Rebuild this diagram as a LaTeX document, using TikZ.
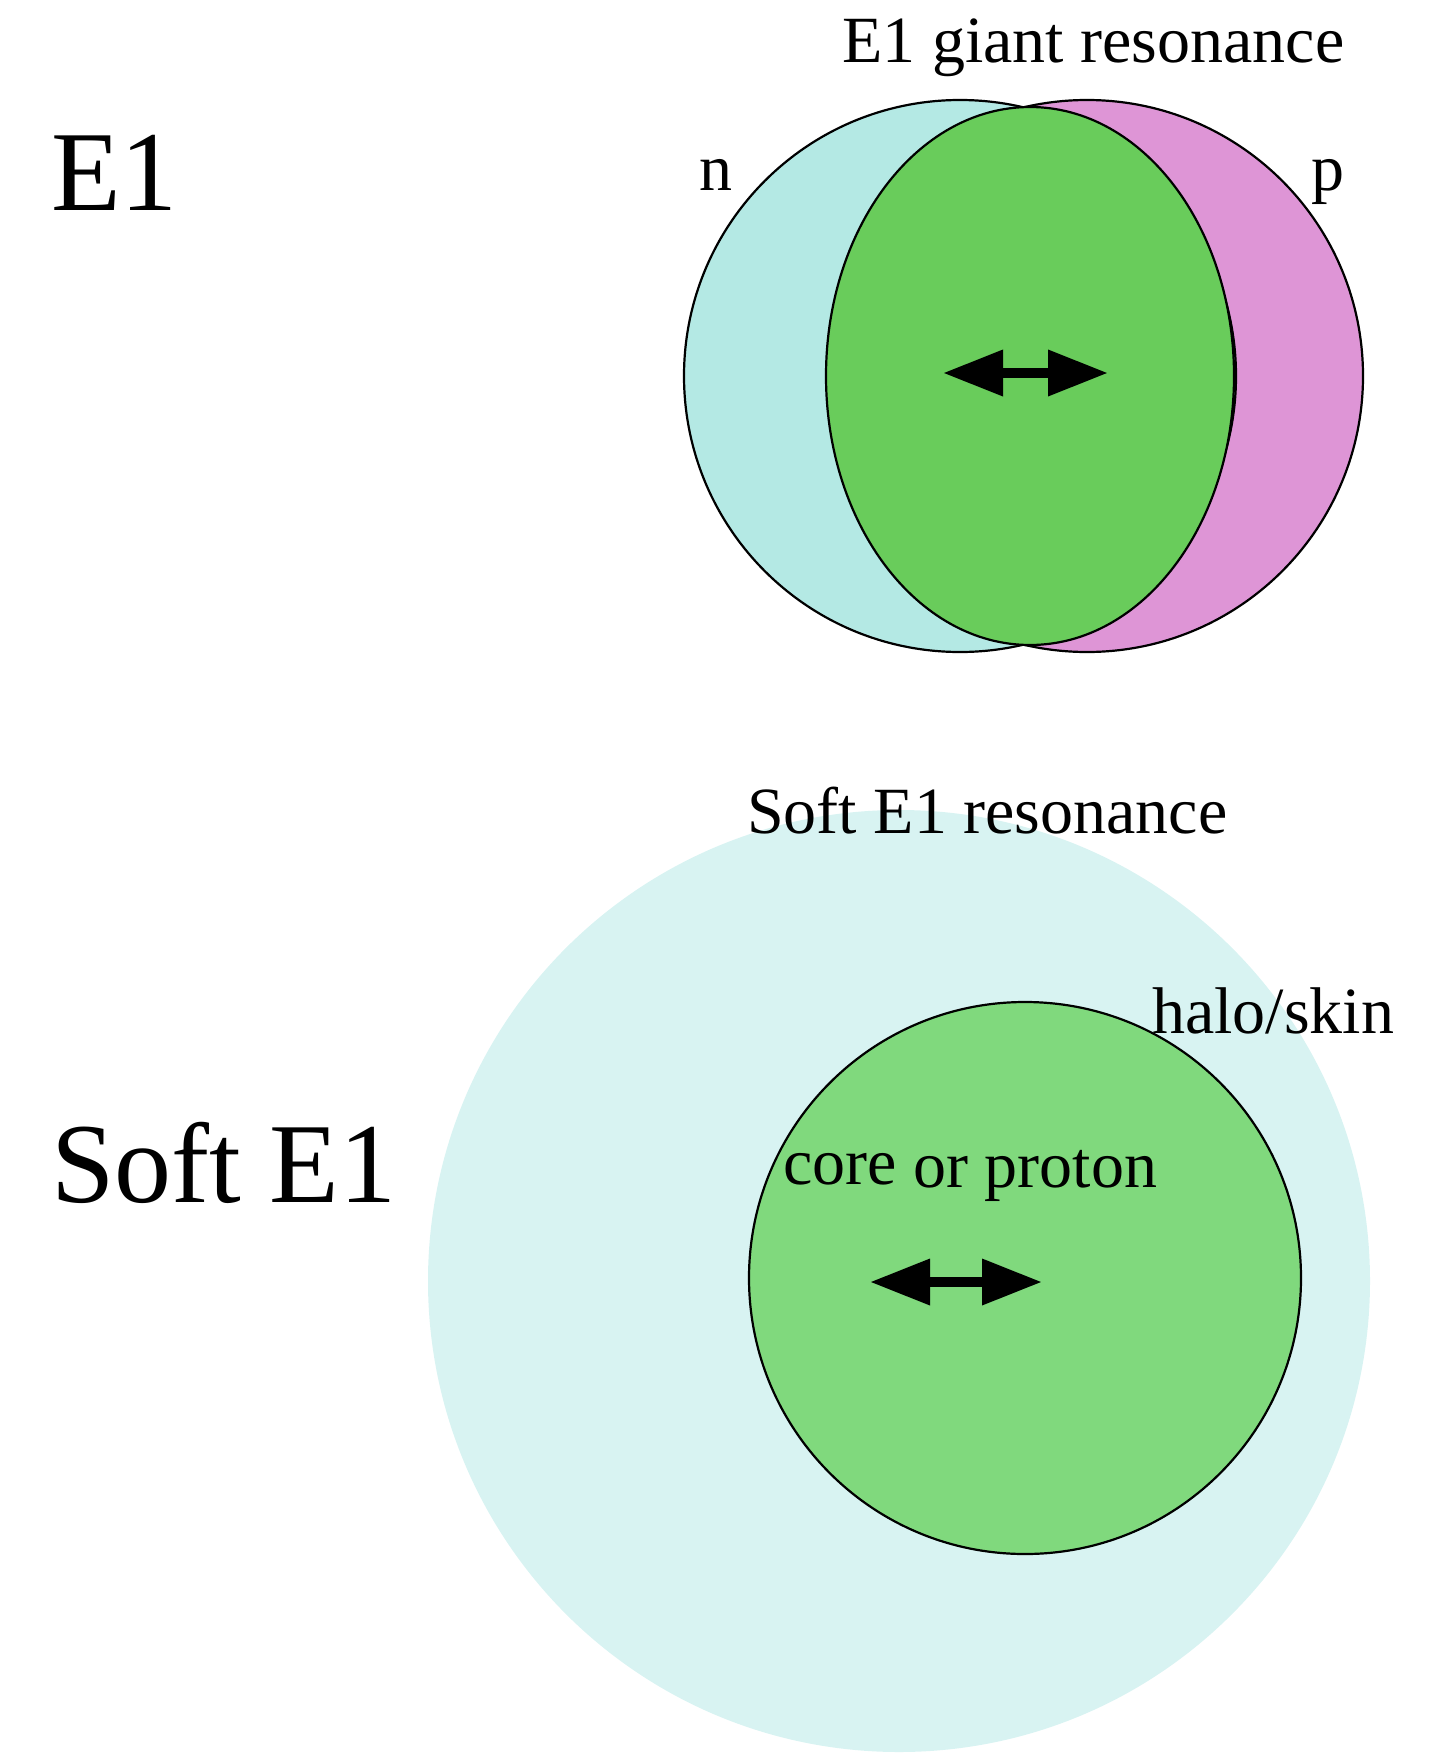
\documentclass[tikz,border=0pt]{standalone}
\usepackage{fontspec}
\setmainfont{Liberation Serif}
\usetikzlibrary{arrows.meta}
\definecolor{ncyan}{RGB}{180,233,228}
\definecolor{pmag}{RGB}{222,149,214}
\definecolor{lgreen}{RGB}{105,204,91}
\definecolor{halo}{RGB}{216,243,242}
\definecolor{core}{RGB}{128,217,125}
\tikzset{
  lbl/.style={anchor=base west, inner sep=0pt, font=\fontsize{66}{70}\selectfont},
  big/.style={anchor=base west, inner sep=0pt, font=\fontsize{114}{120}\selectfont},
  outline/.style={draw=black, line width=2.2pt},
  dipole/.style={line width=10pt, {Triangle[length=60pt,width=44pt]}-{Triangle[length=60pt,width=44pt]}}
}
\begin{document}
\begin{tikzpicture}[x=1pt,y=-1pt]
\useasboundingbox (0,0) rectangle (1440,1753);
% ---------- E1 giant resonance ----------
\draw[outline, fill=pmag] (1087,376) circle (276);
\draw[outline, fill=ncyan] (960,376) circle (276);
\draw[outline, fill=lgreen] (1030,376) ellipse [x radius=204, y radius=269];
\coordinate (a1) at (943,373);
\coordinate (b1) at (1108,373);
\draw[dipole] (a1) -- (b1);
\node[big] (e1) at (51,210) {E1};
\node[lbl] (gdr) at (842,63) {E1 giant resonance};
\node[lbl] (n) at (699,190) {n};
\node[lbl] (p) at (1311,190) {p};
% ---------- Soft E1 ----------
\fill[halo] (899,1281) circle (471);
\draw[outline, fill=core] (1025,1278) circle (276);
\coordinate (a2) at (870,1282);
\coordinate (b2) at (1042,1282);
\draw[dipole] (a2) -- (b2);
\node[big] (soft) at (51,1202) {Soft E1};
\node[lbl] (ser) at (747,833) {Soft E1 resonance};
\node[lbl] (hs) at (1152,1033) {halo/skin};
\node[lbl] (cp) at (783,1187) {\raisebox{3pt}{core} or proton};
\end{tikzpicture}
\end{document}
